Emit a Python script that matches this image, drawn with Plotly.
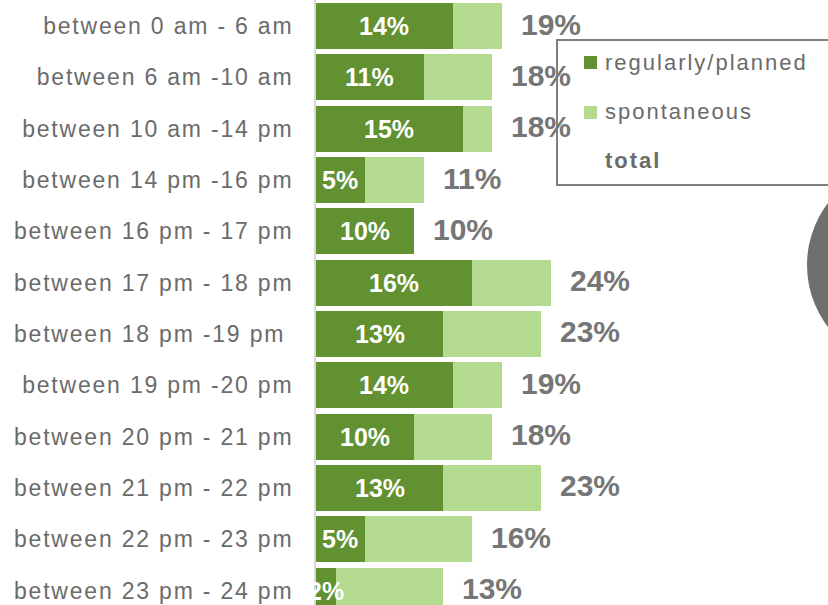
import plotly.graph_objects as go

# Time slots (top to bottom) and shares in percent
slots = [
    "between 0 am - 6 am",
    "between 6 am -10 am",
    "between 10 am -14 pm",
    "between 14 pm -16 pm",
    "between 16 pm - 17 pm",
    "between 17 pm - 18 pm",
    "between 18 pm -19 pm\u00a0",
    "between 19 pm -20 pm",
    "between 20 pm - 21 pm",
    "between 21 pm - 22 pm",
    "between 22 pm - 23 pm",
    "between 23 pm - 24 pm",
]
planned = [14, 11, 15, 5, 10, 16, 13, 14, 10, 13, 5, 2]
total = [19, 18, 18, 11, 10, 24, 23, 19, 18, 23, 16, 13]
spontaneous = [t - p for t, p in zip(total, planned)]

DARK = "#619130"
LIGHT = "#b3da8e"
GREY_TXT = "#6b6b6b"
GREY_TOT = "#767676"
FONT = "Liberation Sans, Arial, sans-serif"

fig = go.Figure()
fig.add_trace(go.Bar(y=slots, x=planned, orientation="h", name="regularly/planned",
                     marker=dict(color=DARK, line=dict(width=0)), hoverinfo="skip"))
fig.add_trace(go.Bar(y=slots, x=spontaneous, orientation="h", name="spontaneous",
                     marker=dict(color=LIGHT, line=dict(width=0)), hoverinfo="skip"))

annotations = []
for s, p, t in zip(slots, planned, total):
    # value of the planned part, centred in the dark segment
    annotations.append(dict(x=p / 2, y=s, xref="x", yref="y", text=f"<b>{p}%</b>",
                            showarrow=False, xanchor="center", yanchor="middle",
                            font=dict(family=FONT, size=25, color="white")))
    # total to the right of the bar
    annotations.append(dict(x=t, y=s, xref="x", yref="y", text=f"<b>{t}%</b>",
                            showarrow=False, xanchor="left", yanchor="middle",
                            xshift=17, yshift=2,
                            font=dict(family=FONT, size=30, color=GREY_TOT)))

W, H, L = 828, 605, 316


def px(x):
    return (x - L) / (W - L)


def py(y):
    return 1 - y / H


# hand-built legend box
legend_items = [("regularly/planned", DARK, 62), ("spontaneous", LIGHT, 112), ("total", None, 160)]
shapes = [dict(type="rect", xref="paper", yref="paper", x0=px(557), x1=px(900),
               y0=py(185), y1=py(40), line=dict(color="#7f7f7f", width=2), fillcolor="rgba(0,0,0,0)")]
for name, col, yc in legend_items:
    if col:
        shapes.append(dict(type="rect", xref="paper", yref="paper", x0=px(584), x1=px(597),
                           y0=py(yc + 7), y1=py(yc - 6), line=dict(width=0), fillcolor=col))
    annotations.append(dict(x=px(603), y=py(yc), xref="paper", yref="paper",
                            text=f"<b>{name}</b>" if col is None else name,
                            showarrow=False, xanchor="left", yanchor="middle",
                            font=dict(family=FONT, size=22, color=GREY_TXT)))

# grey disc partly visible on the right edge
shapes.append(dict(type="circle", xref="paper", yref="paper", x0=px(807), x1=px(1011),
                   y0=py(367), y1=py(163), line=dict(width=0), fillcolor="#6f6f6f"))

fig.update_layout(
    barmode="stack",
    bargap=0.1,
    width=W, height=H,
    margin=dict(l=L, r=0, t=0, b=0),
    paper_bgcolor="white",
    plot_bgcolor="white",
    showlegend=False,
    annotations=annotations,
    shapes=shapes,
    xaxis=dict(range=[0, 52.35], visible=False, fixedrange=True),
    yaxis=dict(categoryorder="array", categoryarray=slots, range=[11.28, -0.507],
               showgrid=False, zeroline=False, showline=True, linecolor="#d9d9d9", linewidth=2,
               ticks="", ticklabelstandoff=16,
               tickfont=dict(family=FONT, size=23, color=GREY_TXT)),
)

post = """
var gd = document.getElementById('{plot_id}');
var names = ['regularly/planned', 'spontaneous', 'total'];
gd.querySelectorAll('.ytick text').forEach(function(t){ t.style.letterSpacing = '1.8px'; });
gd.querySelectorAll('.annotation-text').forEach(function(t){
  if (names.indexOf(t.textContent) < 0) return;
  var b = t.getBBox();
  t.style.letterSpacing = '2px';
  var b2 = t.getBBox();
  t.setAttribute('transform', 'translate(' + (b.x - b2.x) + ',0)');
});
"""

fig.write_html("out.html", post_script=post, config={"displayModeBar": False})
